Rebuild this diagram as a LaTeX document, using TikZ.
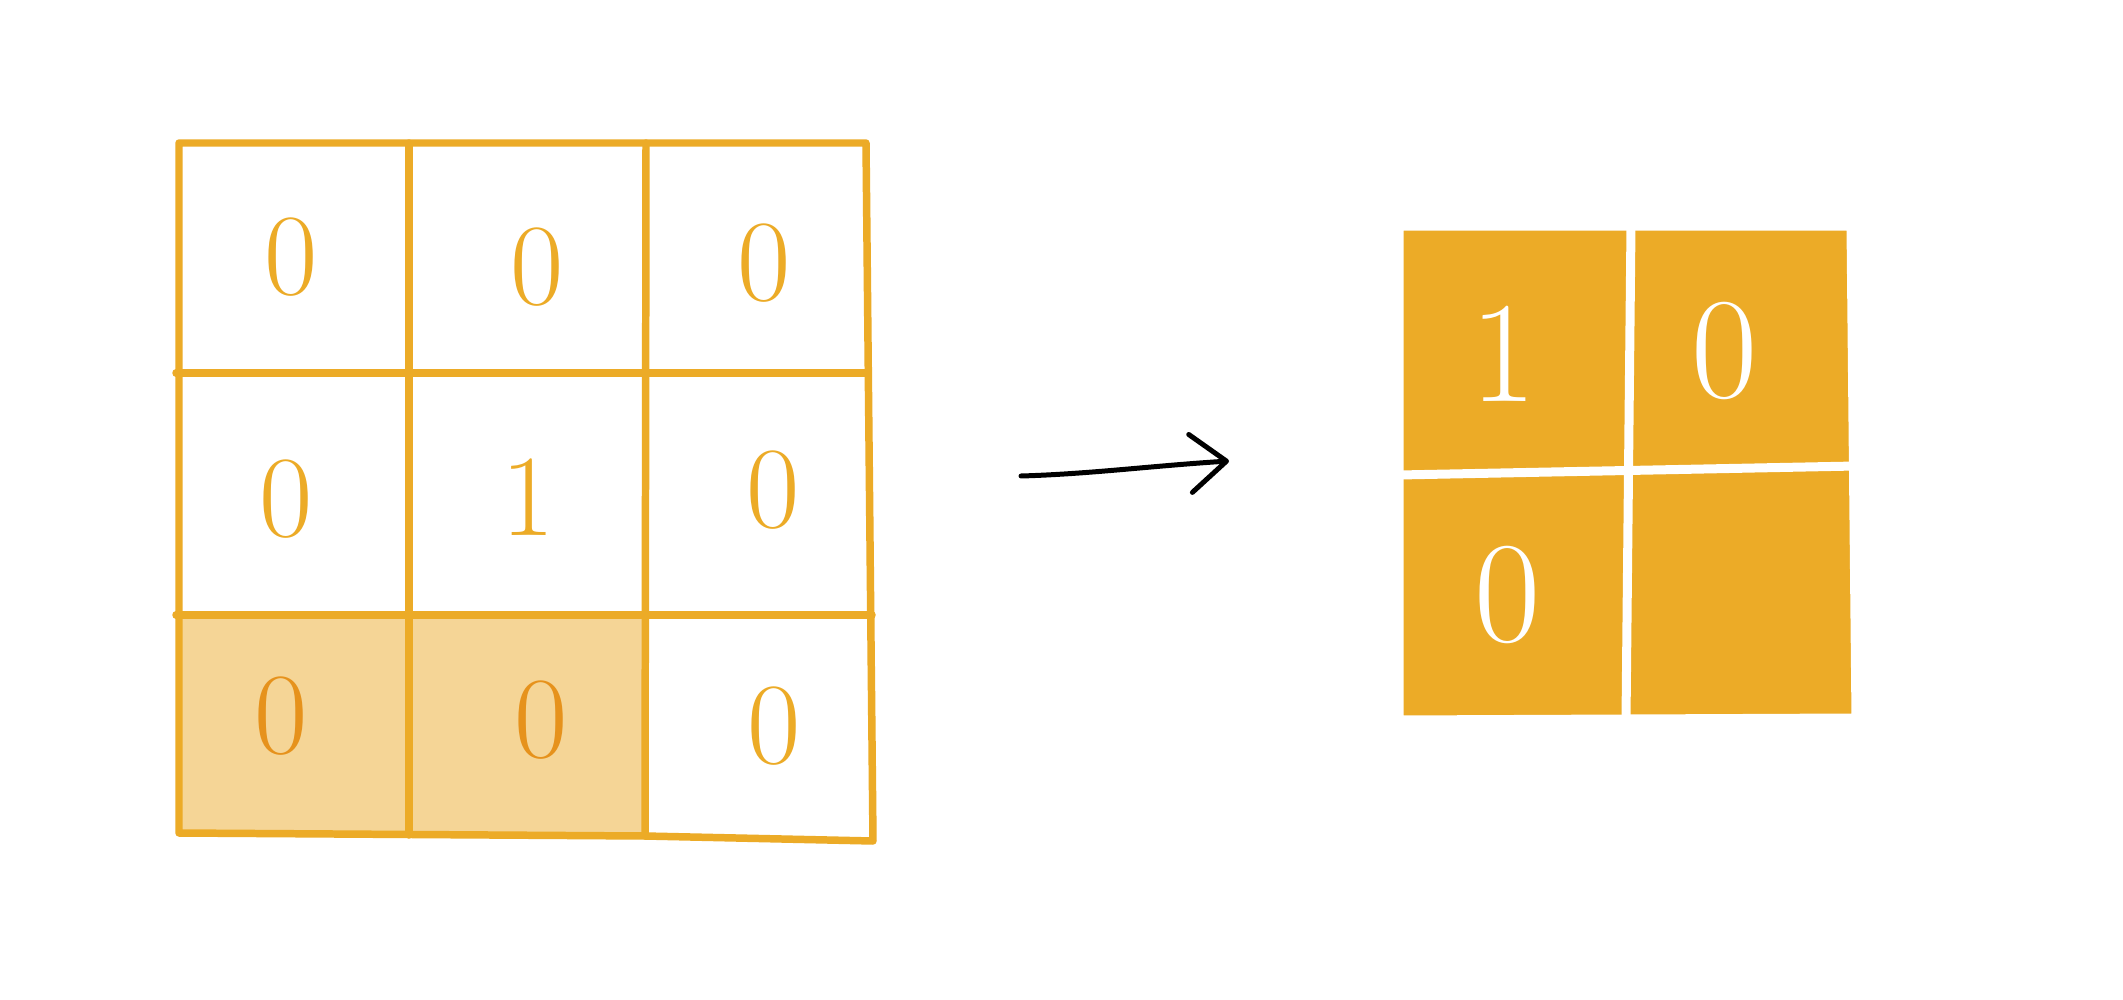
\documentclass[tikz,border=0pt]{standalone}
\usetikzlibrary{arrows.meta}
\definecolor{gridorange}{RGB}{236,171,39}
\definecolor{cellfill}{RGB}{245,213,150}
\definecolor{darkdigit}{RGB}{230,146,28}
\begin{document}
\begin{tikzpicture}[x=0.01cm,y=-0.01cm,
  gridline/.style={draw=gridorange,line width=2.13pt,line cap=round,line join=round},
  whiteline/.style={draw=white,line width=2.56pt,line cap=round,line join=round},
  digit/.style={inner sep=0pt,text=gridorange,font=\fontsize{33}{33}\selectfont},
  darkdig/.style={digit,text=darkdigit},
  bigdigit/.style={inner sep=0pt,text=white,font=\fontsize{41}{41}\selectfont},
  arrowline/.style={draw=black,line width=1.42pt,line cap=round,
    -{Straight Barb[length=0.36cm,width=0.58cm,line cap=round,line join=round]}}]
\useasboundingbox[fill=white] (0,0) rectangle (2123,1000);

% ---- left 3x3 grid ----
\fill[cellfill] (179,615) -- (645,615) -- (645,835) -- (179,833) -- cycle;
\draw[gridline] (179,143) -- (866,143) -- (873,841) -- (645,836) -- (179,833) -- cycle;
\draw[gridline] (176,373) -- (868,373);
\draw[gridline] (176,615) -- (872,615);
\draw[gridline] (409,143) -- (409,835);
\draw[gridline] (646,143) -- (645,836);

\node[digit] (a11) at (291,257) {0};
\node[digit] (a12) at (537,267) {0};
\node[digit] (a13) at (764,263) {0};
\node[digit] (a21) at (286,499) {0};
\node[digit] (a22) at (528,497) {1};
\node[digit] (a23) at (773,490) {0};
\node[darkdig] (a31) at (281,716) {0};
\node[darkdig] (a32) at (541,720) {0};
\node[digit] (a33) at (774,726) {0};

% ---- arrow ----
\coordinate (arrowstart) at (1021,476);
\coordinate (arrowtip) at (1229,461);
\draw[arrowline] (arrowstart) .. controls (1090,474) and (1150,466) .. (arrowtip);

% ---- right 2x2 grid ----
\fill[gridorange] (1399,226) -- (1851,226) -- (1856,718) -- (1399,720) -- cycle;
\draw[whiteline] (1399,226) -- (1851,226) -- (1856,718) -- (1399,720) -- cycle;
\draw[whiteline] (1631,226) -- (1626,720);
\draw[whiteline] (1399,475) -- (1856,466);

\node[bigdigit] (b11) at (1504,354) {1};
\node[bigdigit] (b12) at (1725,351) {0};
\node[bigdigit] (b21) at (1508,595) {0};
\end{tikzpicture}
\end{document}
